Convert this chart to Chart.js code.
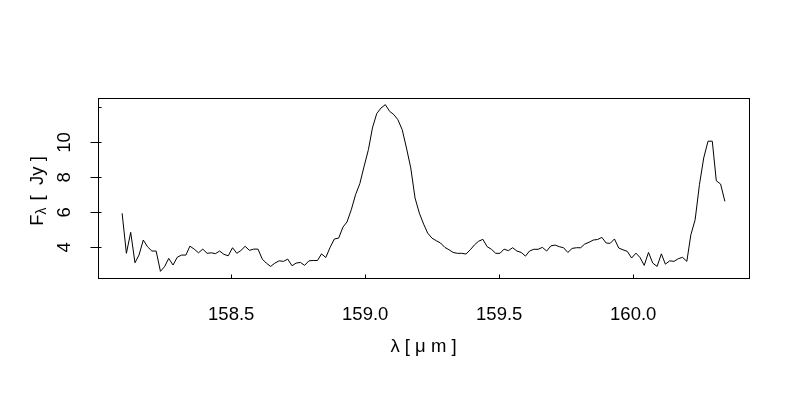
<!DOCTYPE html>
<html>
<head>
<meta charset="utf-8">
<script src="https://cdn.jsdelivr.net/npm/chart.js@4.4.1/dist/chart.umd.min.js"></script>
<style>
  body { margin: 0; background: #fff; }
</style>
</head>
<body>
<canvas id="spectrum" width="800" height="400"></canvas>
<script>
const wavelength = [
  158.093, 158.109, 158.125, 158.141, 158.156, 158.172, 158.188, 158.204, 158.220, 158.236,
  158.251, 158.267, 158.283, 158.299, 158.315, 158.331, 158.346, 158.362, 158.378, 158.394,
  158.410, 158.426, 158.441, 158.457, 158.473, 158.489, 158.505, 158.521, 158.536, 158.552,
  158.568, 158.584, 158.600, 158.616, 158.631, 158.647, 158.663, 158.679, 158.695, 158.711,
  158.727, 158.742, 158.758, 158.774, 158.790, 158.806, 158.822, 158.837, 158.853, 158.869,
  158.885, 158.901, 158.917, 158.932, 158.948, 158.964, 158.980, 158.996, 159.012, 159.027,
  159.043, 159.059, 159.075, 159.091, 159.107, 159.122, 159.138, 159.154, 159.170, 159.186,
  159.202, 159.218, 159.233, 159.249, 159.265, 159.281, 159.297, 159.313, 159.328, 159.344,
  159.360, 159.376, 159.392, 159.408, 159.423, 159.439, 159.455, 159.471, 159.487, 159.503,
  159.518, 159.534, 159.550, 159.566, 159.582, 159.598, 159.613, 159.629, 159.645, 159.661,
  159.677, 159.693, 159.709, 159.724, 159.740, 159.756, 159.772, 159.788, 159.804, 159.819,
  159.835, 159.851, 159.867, 159.883, 159.899, 159.914, 159.930, 159.946, 159.962, 159.978,
  159.994, 160.010, 160.025, 160.041, 160.057, 160.073, 160.089, 160.105, 160.120, 160.136,
  160.152, 160.168, 160.184, 160.200, 160.215, 160.231, 160.247, 160.263, 160.279, 160.295,
  160.310, 160.326, 160.342
]
const flux = [
  5.95, 3.66, 4.86, 3.12, 3.56, 4.42, 4.03, 3.79, 3.79, 2.63,
  2.89, 3.37, 2.99, 3.44, 3.56, 3.56, 4.07, 3.90, 3.69, 3.90,
  3.66, 3.69, 3.64, 3.79, 3.60, 3.52, 3.98, 3.66, 3.82, 4.06,
  3.83, 3.90, 3.90, 3.33, 3.10, 2.91, 3.10, 3.23, 3.20, 3.33,
  2.95, 3.10, 3.14, 2.97, 3.23, 3.25, 3.25, 3.63, 3.42, 4.00,
  4.48, 4.53, 5.16, 5.45, 6.15, 7.01, 7.65, 8.64, 9.59, 10.83,
  11.65, 11.97, 12.16, 11.78, 11.59, 11.30, 10.73, 9.68, 8.54, 6.82,
  5.96, 5.33, 4.82, 4.53, 4.38, 4.25, 4.00, 3.86, 3.71, 3.66,
  3.66, 3.62, 3.86, 4.15, 4.35, 4.46, 4.04, 3.89, 3.66, 3.66,
  3.90, 3.81, 3.98, 3.79, 3.71, 3.50, 3.79, 3.89, 3.89, 4.00,
  3.79, 4.09, 4.13, 4.04, 3.98, 3.71, 3.94, 3.98, 3.98, 4.19,
  4.29, 4.42, 4.45, 4.57, 4.25, 4.23, 4.48, 3.96, 3.86, 3.77,
  3.39, 3.67, 3.43, 2.97, 3.71, 3.10, 2.91, 3.63, 3.04, 3.23,
  3.20, 3.35, 3.43, 3.20, 4.72, 5.58, 7.58, 9.11, 10.07, 10.07,
  7.81, 7.62, 6.63
]
const xTicks = [158.5, 159.0, 159.5, 160.0]
const yTicks = [4, 6, 8, 10]
const yInnerTicks = [4, 6, 8, 10, 12]
const xTitle = "λ [ μ m ]"
const yTitle = ["F", "λ", " [  Jy ]"]

const FONT = '"Liberation Sans", Arial, sans-serif'
const FONT_SIZE = 18.5

// R style range: data range stretched by 4% each side
function rRange(values) {
  const lo = Math.min(...values)
  const hi = Math.max(...values)
  const pad = (hi - lo) * 0.04
  return { min: lo - pad, max: hi + pad }
}
const xRange = rRange(wavelength)
const yRange = rRange(flux)

// box, tick marks, y labels and axis titles in the R base-graphics look
const rAxes = {
  id: "rAxes",
  afterDraw(chart) {
    const ctx = chart.ctx
    const area = chart.chartArea
    const xs = chart.scales.x
    const ys = chart.scales.y
    ctx.save()
    ctx.strokeStyle = "#000"
    ctx.lineWidth = 1
    const l = Math.round(area.left) + 0.5
    const t = Math.round(area.top) + 0.5
    const r = Math.round(area.right) + 0.5
    const b = Math.round(area.bottom) + 0.5
    ctx.strokeRect(l, t, r - l, b - t)

    ctx.beginPath()
    xTicks.forEach((v) => {
      const px = Math.round(xs.getPixelForValue(v)) + 0.5
      ctx.moveTo(px, b)
      ctx.lineTo(px, b - 4)
    })
    yTicks.forEach((v) => {
      const py = Math.round(ys.getPixelForValue(v)) + 0.5
      ctx.moveTo(l - 8, py)
      ctx.lineTo(l, py)
    })
    yInnerTicks.forEach((v) => {
      const py = Math.round(ys.getPixelForValue(v)) + 0.5
      ctx.moveTo(l, py)
      ctx.lineTo(l + 3, py)
    })
    ctx.stroke()

    ctx.fillStyle = "#000"
    ctx.font = `${FONT_SIZE}px ${FONT}`
    ctx.textAlign = "center"
    ctx.textBaseline = "alphabetic"
    yTicks.forEach((v) => {
      ctx.save()
      ctx.translate(area.left - 28, ys.getPixelForValue(v))
      ctx.rotate(-Math.PI / 2)
      ctx.fillText(String(v), 0, 0)
      ctx.restore()
    })

    ctx.textBaseline = "middle"
    ctx.fillText(xTitle, (area.left + area.right) / 2, area.bottom + 69)

    // F with subscript lambda, rotated
    const subSize = 14
    const gap = 2
    ctx.textAlign = "left"
    ctx.textBaseline = "alphabetic"
    ctx.font = `${FONT_SIZE}px ${FONT}`
    const w0 = ctx.measureText(yTitle[0]).width
    const w2 = ctx.measureText(yTitle[2]).width
    ctx.font = `${subSize}px ${FONT}`
    const w1 = ctx.measureText(yTitle[1]).width + gap
    const start = -(w0 + w1 + w2) / 2
    ctx.translate(area.left - 55, (area.top + area.bottom) / 2 + 3)
    ctx.rotate(-Math.PI / 2)
    ctx.font = `${FONT_SIZE}px ${FONT}`
    ctx.fillText(yTitle[0], start, 0)
    ctx.font = `${subSize}px ${FONT}`
    ctx.fillText(yTitle[1], start + w0, 3)
    ctx.font = `${FONT_SIZE}px ${FONT}`
    ctx.fillText(yTitle[2], start + w0 + w1, 0)
    ctx.restore()
  },
}

new Chart(document.getElementById("spectrum"), {
  type: "line",
  data: {
    datasets: [
      {
        data: wavelength.map((w, i) => ({ x: w, y: flux[i] })),
        borderColor: "#000",
        borderWidth: 1,
        pointRadius: 0,
        tension: 0,
        fill: false,
      },
    ],
  },
  options: {
    responsive: false,
    animation: false,
    devicePixelRatio: 1,
    layout: { padding: { left: 98, right: 51, top: 98, bottom: 47.8 } },
    plugins: { legend: { display: false }, tooltip: { enabled: false } },
    scales: {
      x: {
        type: "linear",
        min: xRange.min,
        max: xRange.max,
        afterBuildTicks: (axis) => {
          axis.ticks = xTicks.map((v) => ({ value: v }))
        },
        grid: { display: false, drawTicks: false },
        border: { display: false },
        ticks: {
          padding: 26,
          color: "#000",
          maxRotation: 0,
          autoSkip: false,
          font: { family: FONT, size: FONT_SIZE },
          callback: (v) => Number(v).toFixed(1),
        },
      },
      y: {
        type: "linear",
        display: false,
        min: yRange.min,
        max: yRange.max,
      },
    },
  },
  plugins: [rAxes],
})
</script>
</body>
</html>
